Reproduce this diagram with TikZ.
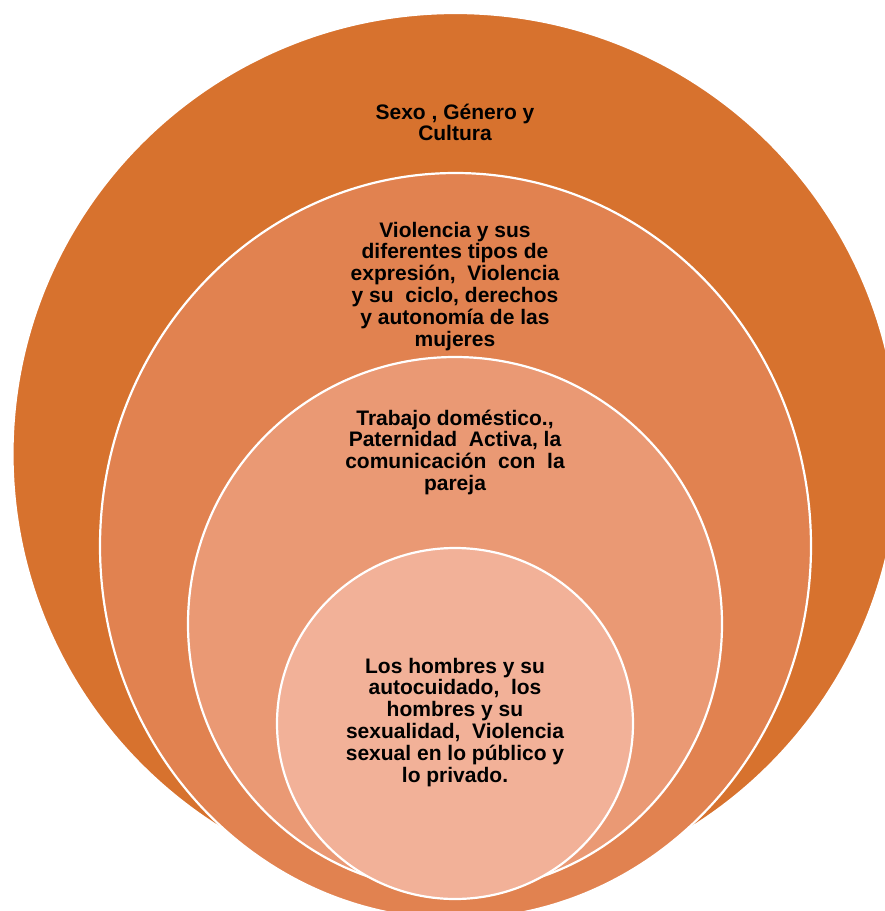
\documentclass[tikz,border=0pt]{standalone}
\usepackage{fontspec}
\setmainfont{Liberation Sans}
\definecolor{ringA}{RGB}{215,114,46}
\definecolor{ringB}{RGB}{225,130,80}
\definecolor{ringC}{RGB}{234,153,116}
\definecolor{ringD}{RGB}{242,177,152}
\tikzset{
  ring/.style={draw=white, line width=2.2pt},
  lbl/.style={anchor=base, inner sep=0pt, outer sep=0pt, text=black},
}
\newcommand{\lbltext}[1]{\parbox[t]{320pt}{\centering\fontsize{21}{21.8}\selectfont\bfseries #1}}
\begin{document}
\begin{tikzpicture}[x=1pt,y=-1pt]
\useasboundingbox (0,0) rectangle (885,911);
\clip (0,0) rectangle (885,911);
\fill[white] (0,0) rectangle (885,911);
\filldraw[ring, fill=ringA] (455.5,454) ellipse [x radius=443pt, y radius=441pt];
\filldraw[ring, fill=ringB] (455.5,546) ellipse [x radius=355.5pt, y radius=373pt];
\filldraw[ring, fill=ringC] (455,624) circle [radius=267pt];
\filldraw[ring, fill=ringD] (455,723.5) ellipse [x radius=178pt, y radius=175.5pt];
\node[lbl] (t1) at (455,119) {\lbltext{Sexo , Género y\\Cultura}};
\node[lbl] (t2) at (455,237) {\lbltext{Violencia y sus\\diferentes tipos de\\expresión,\ \ Violencia\\y su\ \ ciclo, derechos\\y autonomía de las\\mujeres}};
\node[lbl] (t3) at (455,425) {\lbltext{Trabajo doméstico.,\\Paternidad\ \ Activa, la\\comunicación\ \ con\ \ la\\pareja}};
\node[lbl] (t4) at (455,673) {\lbltext{Los hombres y su\\autocuidado,\ \ los\\hombres y su\\sexualidad,\ \ Violencia\\sexual en lo público y\\lo privado.}};
\end{tikzpicture}
\end{document}
